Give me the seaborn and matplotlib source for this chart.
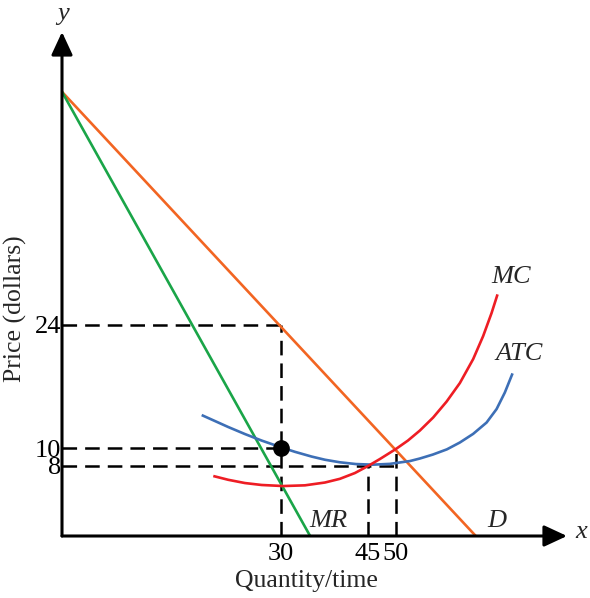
import matplotlib
matplotlib.use("Agg")
import matplotlib.pyplot as plt
import seaborn as sns

# ---- data ----
q_demand = [0.0, 56.7]
p_demand = [50.5, 0.0]

q_mr = [0.0, 34.0]
p_mr = [50.5, 0.0]

q_atc = [19.14, 20.96, 22.78, 25.07, 27.36, 30.10, 31.92, 34.21, 36.03, 38.08, 40.27,
         42.60, 44.93, 47.67, 49.04, 50.82, 52.74, 54.52, 56.34, 58.18, 59.55, 60.68, 61.74]
p_atc = [13.75, 13.07, 12.39, 11.59, 10.85, 10.06, 9.57, 9.03, 8.67, 8.38, 8.18,
         8.11, 8.20, 8.52, 8.81, 9.26, 9.85, 10.63, 11.61, 12.90, 14.43, 16.31, 18.49]

q_mc = [20.73, 22.78, 25.07, 27.36, 30.32, 33.29, 36.03, 38.08, 40.14, 41.92, 43.56,
        45.75, 47.40, 49.04, 50.86, 52.70, 54.52, 56.34, 57.71, 58.86, 59.68]
p_mc = [6.82, 6.39, 6.02, 5.80, 5.68, 5.76, 6.08, 6.50, 7.16, 7.95, 8.75,
        9.89, 10.85, 11.99, 13.47, 15.28, 17.39, 20.11, 22.73, 25.34, 27.47]

q_ticks = [30, 41.9, 45.75]
q_tick_labels = ["30", "45", "50"]
p_ticks = [24, 10, 8]
p_tick_labels = ["24", "10", "8"]

q_opt = 30
p_price = 24
p_atc_opt = 10
p_min = 8

sns.set_theme(style="white")
plt.rcParams['font.family'] = ['Liberation Serif', 'DejaVu Serif']
plt.rcParams['lines.scale_dashes'] = False
plt.rcParams['lines.solid_capstyle'] = 'butt'

fig = plt.figure(figsize=(5.9, 5.98), dpi=100)
ax = fig.add_axes([62/590, 62/598, 505/590, 504/598])
ax.set_xlim(0, 69.2)
ax.set_ylim(0, 57.3)
for s in ax.spines.values():
    s.set_visible(False)

dash = dict(color="black", lw=1.8, dashes=(10.5, 5.8), zorder=2)
# dashed guides
ax.plot([0, q_opt], [p_price, p_price], **dash)
ax.plot([q_opt, q_opt], [0, p_price], **dash)
ax.plot([0, q_opt], [p_atc_opt, p_atc_opt], **dash)
ax.plot([0, q_ticks[2]], [p_min, p_min], **dash)
ax.plot([q_ticks[1], q_ticks[1]], [0, p_min], **dash)
ax.plot([q_ticks[2], q_ticks[2]], [0, p_atc_opt], **dash)

lw = 1.9
sns.lineplot(x=q_demand, y=p_demand, ax=ax, color="#f26522", lw=lw, sort=False, estimator=None, zorder=3)
sns.lineplot(x=q_mr, y=p_mr, ax=ax, color="#1aa548", lw=lw, sort=False, estimator=None, zorder=3)
sns.lineplot(x=q_atc, y=p_atc, ax=ax, color="#3d6fb6", lw=lw, sort=False, estimator=None, zorder=3)
sns.lineplot(x=q_mc, y=p_mc, ax=ax, color="#ee1d24", lw=lw, sort=False, estimator=None, zorder=3)

ax.plot([q_opt], [p_atc_opt], marker="o", ms=11, color="black", zorder=5, clip_on=False)

# axes with arrows
arrow = dict(arrowstyle="-|>,head_length=1.4,head_width=0.65", color="black", lw=2.2,
             mutation_scale=10, shrinkA=0, shrinkB=0)
ax.annotate("", xy=(69.2, 0), xytext=(0, 0), arrowprops=arrow, annotation_clip=False, zorder=6)
ax.annotate("", xy=(0, 57.3), xytext=(0, 0), arrowprops=arrow, annotation_clip=False, zorder=6)

ax.set_xticks(q_ticks, q_tick_labels)
ax.set_yticks(p_ticks, p_tick_labels)
ax.tick_params(axis="both", length=0, labelsize=19, colors="black")
ax.tick_params(axis="x", pad=5)
ax.tick_params(axis="y", pad=0.5)
ax.set_xlabel("")
ax.set_ylabel("")

fs = 19
ax.text(61.6, 29.4, "MC", style="italic", fontsize=fs, ha="center", va="center")
ax.text(62.7, 20.7, "ATC", style="italic", fontsize=fs, ha="center", va="center")
ax.text(36.5, 1.7, "MR", style="italic", fontsize=fs, ha="center", va="center")
ax.text(59.6, 1.7, "D", style="italic", fontsize=fs, ha="center", va="center")
ax.text(71.2, 0.4, "x", style="italic", fontsize=fs, ha="center", va="center", clip_on=False)
ax.text(0.2, 59.3, "y", style="italic", fontsize=fs, ha="center", va="center", clip_on=False)

fig.text(306.7/590, 1 - 581/598, "Quantity/time", fontsize=18.5, ha="center", va="center")
fig.text(15/590, 1 - 309/598, "Price (dollars)", fontsize=18.5, ha="center", va="center", rotation=90)

fig.savefig("out.png", dpi=100)
